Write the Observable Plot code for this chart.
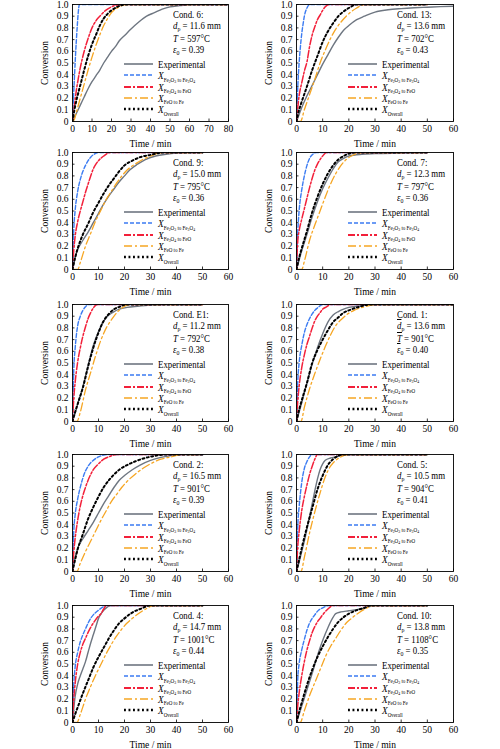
<!DOCTYPE html>
<html><head><meta charset="utf-8">
<script src="https://cdn.jsdelivr.net/npm/d3@7"></script>
<script src="https://cdn.jsdelivr.net/npm/@observablehq/plot@0.6"></script>
<style>
body{margin:0;background:#fff;font-family:"Liberation Serif","Times New Roman",serif;}
#wrap{position:relative;width:500px;height:749px;overflow:hidden;background:#fff;}
.panel{position:absolute;width:250px;height:150px;}
.panel svg{overflow:visible;}
.ann{position:absolute;font-size:10.5px;line-height:11px;white-space:nowrap;color:#000;transform:scaleX(0.84);transform-origin:0 0;}
.ov{text-decoration:overline;}
.legrow{position:absolute;height:11px;display:flex;align-items:center;white-space:nowrap;font-size:10.5px;color:#000;}
.legrow svg{margin-right:5px;flex:none;}
.legtxt{display:inline-block;transform:scaleX(0.84);transform-origin:0 50%;}
.X{font-style:italic;font-size:11px;}
.sb{font-size:6px;position:relative;top:2.5px;}
.sb2{font-size:4.5px;position:relative;top:1px;}
</style>
</head><body>
<div id="wrap"></div>
<script>
// ---------------- data (time / min, conversion) ----------------
// Cond. 6
const c6_exp = [[0,0],[2,0.07],[4,0.14],[6,0.21],[8,0.28],[10,0.34],[12,0.39],[14,0.44],[16,0.5],[18,0.55],[20,0.6],[22,0.64],[24,0.69],[27,0.74],[30,0.79],[34,0.85],[38,0.9],[42,0.93],[46,0.96],[50,0.98],[55,0.99],[60,1],[80,1]];
const c6_h = [[0,0],[0.5,0.2],[1,0.38],[1.5,0.55],[2,0.7],[2.5,0.83],[3,0.94],[3.5,1],[80,1]];
const c6_m = [[0,0],[1,0.14],[2,0.27],[3,0.37],[4,0.46],[6,0.6],[8,0.71],[10,0.8],[12,0.86],[14,0.9],[17,0.95],[20,0.98],[25,1],[80,1]];
const c6_w = [[0,0],[1,0.02],[2,0.08],[4,0.2],[6,0.32],[8,0.44],[10,0.55],[12,0.65],[14,0.74],[16,0.82],[18,0.88],[20,0.93],[24,0.98],[28,1],[80,1]];
const c6_o = [[0,0],[1,0.1],[2,0.18],[4,0.31],[6,0.44],[8,0.56],[10,0.66],[12,0.74],[14,0.82],[16,0.88],[18,0.92],[20,0.95],[23,0.98],[27,1],[80,1]];
// Cond. 13
const c13_exp = [[0,0],[1,0.06],[2,0.12],[4,0.22],[6,0.31],[8,0.4],[10,0.49],[12,0.57],[14,0.65],[16,0.72],[18,0.78],[20,0.82],[23,0.87],[26,0.9],[30,0.935],[35,0.955],[40,0.965],[45,0.972],[50,0.977],[55,0.982],[60,0.985]];
const c13_h = [[0,0],[0.5,0.3],[1,0.5],[1.5,0.64],[2,0.75],[2.5,0.83],[3,0.9],[4,0.97],[5,1],[50,1]];
const c13_m = [[0,0],[1,0.22],[2,0.33],[3,0.43],[4,0.51],[5,0.64],[6,0.74],[7,0.81],[8,0.87],[9,0.91],[10,0.95],[11,0.98],[12.5,1],[50,1]];
const c13_w = [[0,0],[1.5,0],[3,0.1],[5,0.23],[7,0.36],[9,0.5],[11,0.61],[13,0.71],[15,0.79],[17,0.85],[19,0.9],[21,0.94],[23,0.97],[26,1],[50,1]];
const c13_o = [[0,0],[1,0.1],[2,0.17],[4,0.3],[6,0.44],[8,0.56],[10,0.68],[12,0.77],[14,0.84],[16,0.9],[18,0.94],[20,0.97],[23,1],[50,1]];
// Cond. 9
const c9_exp = [[0,0],[1,0.1],[2,0.17],[4,0.25],[6,0.32],[8,0.4],[10,0.48],[12,0.56],[14,0.63],[16,0.69],[18,0.75],[20,0.8],[22,0.85],[25,0.9],[28,0.94],[32,0.97],[36,0.985],[40,0.995],[44,1],[50,1]];
const c9_h = [[0,0],[0.5,0.35],[1,0.5],[2,0.67],[3,0.77],[4,0.84],[5,0.89],[6,0.93],[7,0.96],[8,0.98],[10,1],[50,1]];
const c9_m = [[0,0],[0.5,0.17],[1,0.28],[2,0.41],[3,0.5],[4,0.58],[5,0.66],[6,0.73],[7,0.8],[8,0.86],[9,0.9],[10,0.93],[12,0.97],[14.5,1],[50,1]];
const c9_w = [[0,0],[2,0],[3,0.06],[5,0.2],[7,0.31],[9,0.42],[11,0.51],[13,0.6],[15,0.67],[17,0.74],[19,0.8],[21,0.85],[24,0.9],[27,0.94],[30,0.97],[35,1],[50,1]];
const c9_o = [[0,0],[1,0.1],[2,0.18],[4,0.3],[6,0.39],[8,0.49],[10,0.57],[12,0.65],[14,0.72],[16,0.78],[18,0.84],[20,0.89],[23,0.93],[26,0.96],[30,0.98],[35,1],[50,1]];
// Cond. 7
const c7_exp = [[0,0],[1,0.08],[2,0.16],[4,0.3],[6,0.45],[8,0.58],[10,0.69],[12,0.78],[14,0.86],[16,0.92],[18,0.95],[20,0.97],[25,0.985],[30,0.99],[40,0.995],[50,1]];
const c7_h = [[0,0],[0.5,0.33],[1,0.5],[2,0.68],[3,0.8],[4,0.89],[5,0.95],[6,0.98],[7.5,1],[50,1]];
const c7_m = [[0,0],[0.5,0.25],[1,0.33],[2,0.43],[3,0.52],[4,0.61],[5,0.7],[6,0.78],[7,0.85],[8,0.9],[9,0.94],[10,0.97],[11.5,1],[50,1]];
const c7_w = [[0,0],[2,0],[3,0.07],[5,0.25],[7,0.38],[9,0.5],[11,0.62],[13,0.73],[15,0.82],[17,0.89],[19,0.94],[21,0.97],[23,0.99],[26,1],[50,1]];
const c7_o = [[0,0],[1,0.1],[2,0.18],[4,0.33],[6,0.49],[8,0.62],[10,0.73],[12,0.82],[14,0.89],[16,0.94],[18,0.97],[20,0.99],[23,1],[50,1]];
// Cond. E1
const cE1_exp = [[0,0],[1,0.07],[2,0.15],[4,0.3],[6,0.48],[8,0.65],[10,0.77],[12,0.86],[14,0.91],[16,0.94],[18,0.96],[21,0.975],[25,0.985],[30,0.995],[35,1],[50,1]];
const cE1_h = [[0,0],[0.5,0.45],[1,0.62],[1.5,0.74],[2,0.82],[3,0.9],[4,0.95],[5,0.98],[6,1],[50,1]];
const cE1_m = [[0,0],[0.5,0.2],[1,0.33],[2,0.51],[3,0.63],[4,0.73],[5,0.81],[6,0.88],[7,0.93],[8,0.97],[9.5,1],[50,1]];
const cE1_w = [[0,0],[1.7,0],[3,0.08],[5,0.27],[7,0.42],[9,0.57],[11,0.7],[13,0.8],[15,0.87],[17,0.93],[19,0.97],[22,1],[50,1]];
const cE1_o = [[0,0],[1,0.08],[2,0.15],[4,0.29],[6,0.47],[8,0.63],[10,0.76],[12,0.86],[14,0.92],[16,0.96],[18,0.98],[21,1],[50,1]];
// Cond. 1
const c1_exp = [[0,0],[1,0.08],[2,0.16],[4,0.33],[6,0.49],[8,0.63],[10,0.75],[12,0.85],[14,0.91],[16,0.94],[18,0.96],[20,0.975],[25,0.99],[30,1],[60,1]];
const c1_h = [[0,0],[0.5,0.35],[1,0.5],[2,0.65],[3,0.76],[4,0.83],[5,0.88],[6,0.92],[7,0.95],[8,0.97],[10,1],[60,1]];
const c1_m = [[0,0],[0.5,0.18],[1,0.3],[2,0.46],[3,0.57],[4,0.66],[5,0.73],[6,0.8],[7,0.86],[8,0.9],[9,0.93],[10,0.96],[11.5,0.98],[13,1],[60,1]];
const c1_w = [[0,0],[1.7,0],[3,0.12],[5,0.28],[7,0.41],[9,0.53],[11,0.64],[13,0.74],[15,0.82],[17,0.87],[19,0.91],[22,0.95],[26,0.98],[30,1],[60,1]];
const c1_o = [[0,0],[1,0.1],[2,0.18],[4,0.33],[6,0.5],[8,0.61],[10,0.7],[12,0.78],[14,0.85],[16,0.89],[18,0.93],[20,0.95],[24,0.98],[28,1],[60,1]];
// Cond. 2
const c2_exp = [[0,0],[1,0.12],[2,0.2],[4,0.28],[6,0.35],[8,0.42],[10,0.5],[12,0.58],[14,0.65],[16,0.72],[18,0.78],[20,0.82],[23,0.87],[26,0.91],[30,0.95],[34,0.975],[38,0.99],[42,1],[50,1]];
const c2_h = [[0,0],[0.5,0.35],[1,0.48],[2,0.62],[3,0.72],[4,0.8],[5,0.86],[6,0.9],[7,0.93],[8,0.95],[10,0.98],[12,0.995],[14,1],[50,1]];
const c2_m = [[0,0],[0.5,0.17],[1,0.28],[2,0.44],[3,0.56],[4,0.65],[5,0.72],[6,0.78],[7,0.83],[8,0.87],[10,0.92],[12,0.96],[14,0.98],[17,1],[50,1]];
const c2_w = [[0,0],[1.7,0],[3,0.07],[5,0.17],[7,0.26],[9,0.35],[11,0.44],[13,0.52],[15,0.6],[17,0.66],[19,0.72],[21,0.77],[24,0.83],[27,0.88],[30,0.92],[34,0.96],[38,0.98],[42,1],[50,1]];
const c2_o = [[0,0],[1,0.1],[2,0.19],[4,0.32],[6,0.45],[8,0.55],[10,0.64],[12,0.72],[14,0.78],[16,0.83],[18,0.87],[21,0.91],[24,0.94],[28,0.97],[32,0.99],[36,1],[50,1]];
// Cond. 5
const c5_exp = [[0,0],[1,0.08],[2,0.17],[3,0.26],[4,0.36],[5,0.47],[6,0.58],[7,0.69],[8,0.79],[9,0.87],[10,0.92],[11,0.95],[13,0.97],[15,0.98],[20,1],[50,1]];
const c5_h = [[0,0],[0.5,0.4],[1,0.55],[2,0.76],[3,0.88],[4,0.94],[5,0.98],[6,1],[50,1]];
const c5_m = [[0,0],[0.5,0.22],[1,0.34],[2,0.52],[3,0.64],[4,0.74],[5,0.83],[6,0.9],[7,0.96],[8,1],[50,1]];
const c5_w = [[0,0],[1.7,0],[3,0.12],[5,0.33],[7,0.51],[9,0.67],[11,0.81],[13,0.9],[15,0.95],[17,0.98],[19.5,1],[50,1]];
const c5_o = [[0,0],[1,0.1],[2,0.2],[4,0.38],[6,0.54],[8,0.7],[10,0.82],[12,0.91],[14,0.96],[16,0.99],[18,1],[50,1]];
// Cond. 4
const c4_exp = [[0,0],[0.5,0.12],[1,0.22],[2,0.33],[3,0.4],[4,0.46],[5,0.52],[6,0.6],[7,0.68],[8,0.75],[9,0.82],[10,0.89],[11,0.93],[12,0.96],[13,0.98],[14,0.995],[15,1],[50,1]];
const c4_h = [[0,0],[0.5,0.33],[1,0.47],[2,0.6],[3,0.69],[4,0.75],[5,0.8],[6,0.85],[7,0.89],[8,0.92],[10,0.96],[12,0.99],[13,1],[50,1]];
const c4_m = [[0,0],[0.5,0.2],[1,0.33],[2,0.5],[3,0.6],[4,0.67],[5,0.72],[6,0.77],[8,0.85],[10,0.91],[11,0.93],[12,0.97],[13,1],[50,1]];
const c4_w = [[0,0],[1.7,0],[3,0.07],[5,0.2],[7,0.31],[9,0.41],[11,0.5],[13,0.59],[15,0.67],[17,0.74],[19,0.8],[21,0.85],[23,0.89],[26,0.94],[29,0.98],[31,1],[50,1]];
const c4_o = [[0,0],[1,0.07],[2,0.13],[4,0.25],[6,0.36],[8,0.47],[10,0.56],[12,0.64],[14,0.72],[16,0.79],[18,0.85],[20,0.89],[23,0.94],[26,0.97],[30,1],[50,1]];
// Cond. 10
const c10_exp = [[0,0],[1,0.07],[2,0.14],[4,0.28],[6,0.42],[8,0.57],[10,0.7],[12,0.81],[14,0.9],[15,0.93],[17,0.945],[20,0.955],[23,0.965],[26,0.98],[28,0.99],[30,1],[50,1]];
const c10_h = [[0,0],[0.5,0.38],[1,0.5],[2,0.62],[3,0.71],[4,0.79],[5,0.85],[6,0.89],[7,0.92],[8,0.95],[10,0.98],[12.5,1],[50,1]];
const c10_m = [[0,0],[0.5,0.15],[1,0.25],[2,0.4],[3,0.52],[4,0.62],[5,0.7],[6,0.77],[7,0.82],[8,0.86],[9,0.89],[10,0.92],[12,0.97],[14,1],[50,1]];
const c10_w = [[0,0],[1.4,0],[3,0.1],[5,0.23],[7,0.34],[9,0.45],[11,0.56],[13,0.65],[15,0.72],[17,0.79],[19,0.85],[21,0.89],[24,0.94],[27,0.98],[29,1],[50,1]];
const c10_o = [[0,0],[1,0.09],[2,0.17],[4,0.32],[6,0.45],[8,0.56],[10,0.65],[12,0.73],[14,0.8],[16,0.86],[18,0.9],[20,0.93],[23,0.96],[26,0.98],[28,1],[50,1]];

// panel labels
const condNames = ["6","13","9","7","E1","1","2","5","4","10"];
const dpValues  = ["11.6","13.6","15.0","12.3","11.2","13.6","16.5","10.5","14.7","13.8"];
const tempValues = ["597","702","795","797","792","901","901","904","1001","1108"];
const epsValues = ["0.39","0.43","0.36","0.36","0.38","0.40","0.39","0.41","0.44","0.35"];
const xMaxValues = [80,60,60,60,60,60,60,60,60,60];
const yTickValues = [0,0.1,0.2,0.3,0.4,0.5,0.6,0.7,0.8,0.9,1.0];
const seriesData = [
  [c6_exp,c6_h,c6_m,c6_w,c6_o],
  [c13_exp,c13_h,c13_m,c13_w,c13_o],
  [c9_exp,c9_h,c9_m,c9_w,c9_o],
  [c7_exp,c7_h,c7_m,c7_w,c7_o],
  [cE1_exp,cE1_h,cE1_m,cE1_w,cE1_o],
  [c1_exp,c1_h,c1_m,c1_w,c1_o],
  [c2_exp,c2_h,c2_m,c2_w,c2_o],
  [c5_exp,c5_h,c5_m,c5_w,c5_o],
  [c4_exp,c4_h,c4_m,c4_w,c4_o],
  [c10_exp,c10_h,c10_m,c10_w,c10_o]
];
const seriesLabels = [
  'Experimental',
  '<span class="X">X</span><span class="sb">Fe<span class="sb2">2</span>O<span class="sb2">3</span> to Fe<span class="sb2">3</span>O<span class="sb2">4</span></span>',
  '<span class="X">X</span><span class="sb">Fe<span class="sb2">3</span>O<span class="sb2">4</span> to FeO</span>',
  '<span class="X">X</span><span class="sb">FeO to Fe</span>',
  '<span class="X">X</span><span class="sb">Overall</span>'
];

// ---------------- styles / layout ----------------
const STY = [
  {stroke:"#6e7681", w:1.4, dash:null, lw:1.6},
  {stroke:"#3b7bf2", w:1.4, dash:"4,2", lw:1.6},
  {stroke:"#f2203a", w:1.5, dash:"7,2,2,2", lw:1.8},
  {stroke:"#f6a623", w:1.3, dash:"8,3,2,3", lw:1.6},
  {stroke:"#000000", w:2.0, dash:"1.9,2.6", lw:2.6}
];
const FONT = '"Liberation Serif","Times New Roman",serif';
const rowTops = [0,148,300,450,601];
const MT = 4, PH = 117, MB = 29;

const wrap = document.getElementById("wrap");
function fmtY(d){ return d === 0 ? "0" : d.toFixed(1); }

for (let i = 0; i < 10; i++) {
  const col = i % 2, row = Math.floor(i / 2);
  const ml = col === 0 ? 72 : 46;
  const mr = col === 0 ? 22 : 47;
  const PW = 250 - ml - mr;
  const xmax = xMaxValues[i];
  const xt = d3.range(0, xmax + 1, 10);
  const marks = [
    Plot.axisX({ticks: xt, tickSize: 0, tickPadding: 4, label: "Time / min", labelAnchor: "center", labelArrow: "none", labelOffset: 25, fontSize: 9.5}),
    Plot.axisY({ticks: yTickValues, tickSize: 0, tickPadding: 4, tickFormat: fmtY, label: "Conversion", labelAnchor: "center", labelArrow: "none", labelOffset: 31, fontSize: 9.5}),
    Plot.tickX(xt, {x: d => d, insetTop: PH - 2.5, stroke: "#000", strokeWidth: 0.8}),
    Plot.tickY(yTickValues, {y: d => d, insetRight: PW - 2.5, stroke: "#000", strokeWidth: 0.8}),
  ];
  seriesData[i].forEach((arr, k) => {
    const s = STY[k];
    marks.push(Plot.line(arr, {x: d => d[0], y: d => d[1], stroke: s.stroke, strokeWidth: s.w, strokeDasharray: s.dash, curve: "monotone-x", clip: true}));
  });
  marks.push(Plot.frame({stroke: "#000", strokeWidth: 0.9}));
  const chart = Plot.plot({
    width: 250, height: MT + PH + MB,
    marginLeft: ml, marginRight: mr, marginTop: MT, marginBottom: MB,
    style: {fontFamily: FONT, fontSize: "9.5px", background: "transparent", color: "#000", overflow: "visible"},
    x: {domain: [0, xmax]},
    y: {domain: [0, 1]},
    marks
  });
  const div = document.createElement("div");
  div.className = "panel";
  div.style.left = (col * 250) + "px";
  div.style.top = rowTops[row] + "px";
  div.appendChild(chart);

  // annotation
  const bar = condNames[i] === "1";
  const ann = document.createElement("div");
  ann.className = "ann";
  ann.style.left = (ml + 101) + "px";
  ann.style.top = (MT + 5) + "px";
  const v = (t) => bar ? `<span class="ov"><i>${t}</i></span>` : `<i>${t}</i>`;
  ann.innerHTML = `Cond. ${condNames[i]}:<br>${v("d")}<span style="font-size:7px;position:relative;top:2px">p</span> = ${dpValues[i]} mm<br>${v("T")} = ${tempValues[i]}°C<br>${v("ε")}<span style="font-size:7px;position:relative;top:2px">0</span> = ${epsValues[i]}`;
  div.appendChild(ann);

  // legend
  for (let k = 0; k < 5; k++) {
    const s = STY[k];
    const r = document.createElement("div");
    r.className = "legrow";
    r.style.left = (ml + 52) + "px";
    r.style.top = (MT + 60 + 11.3 * k - 5.5) + "px";
    r.innerHTML = `<svg width="29" height="8"><line x1="0" y1="4" x2="29" y2="4" stroke="${s.stroke}" stroke-width="${s.lw}" ${s.dash ? `stroke-dasharray="${s.dash}"` : ""}/></svg><span class="legtxt">${seriesLabels[k]}</span>`;
    div.appendChild(r);
  }
  wrap.appendChild(div);
}
</script>
</body></html>
